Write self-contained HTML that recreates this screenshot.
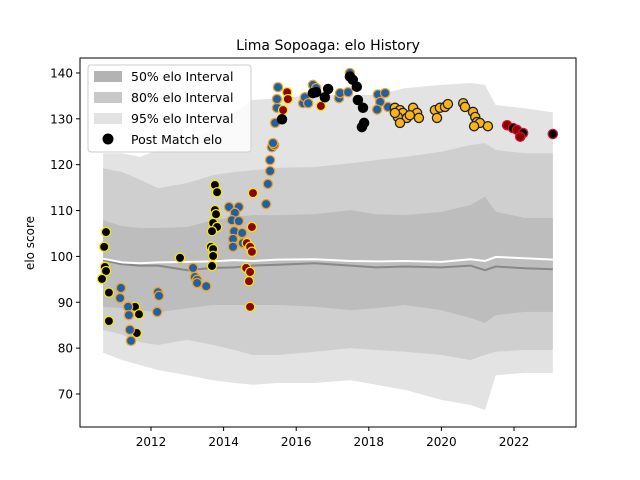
<!DOCTYPE html>
<html><head><meta charset="utf-8"><style>
body{margin:0;background:#fff;}
svg{display:block;font-family:"DejaVu Sans","Liberation Sans",sans-serif;}
</style></head><body>
<svg id="chart" width="640" height="480" viewBox="0 0 640 480">
<rect width="640" height="480" fill="#fff"/>
<text x="328" y="50" text-anchor="middle" font-size="14">Lima Sopoaga: elo History</text>
<text transform="translate(34,243) rotate(-90)" text-anchor="middle" font-size="12">elo score</text>
<g id="plot"></g>
<rect x="80" y="58" width="496" height="369" fill="none" stroke="#000" stroke-width="1"/>
<g id="axes"></g>
<g>
<rect x="88" y="65" width="163" height="87" rx="3" fill="#fff" fill-opacity="0.8" stroke="#ccc"/>
<rect x="94" y="71" width="28" height="11" fill="#b3b3b3"/>
<text x="131" y="81" font-size="12.5">50% elo Interval</text>
<rect x="94" y="92" width="28" height="11" fill="#c8c8c8"/>
<text x="131" y="102" font-size="12.5">80% elo Interval</text>
<rect x="94" y="113" width="28" height="11" fill="#e3e3e3"/>
<text x="131" y="123" font-size="12.5">95% elo Interval</text>
<circle cx="108" cy="139" r="5.5" fill="#000"/>
<text x="131" y="144" font-size="12.5">Post Match elo</text>
</g>
</svg>
<script>
const bandYears=[2010.68,2011.2,2011.7,2012.2,2013,2013.7,2014.3,2014.8,2015.5,2016.5,2017.5,2018.2,2019,2020,2020.8,2021.2,2021.5,2022.3,2023.07];
const hi95=[122.5,122.5,121.7,123.2,125.4,127.5,131.3,134.1,134.5,135.2,135.2,135.2,136.7,137.4,137.8,137.4,133.0,132.3,131.4];
const lo95=[79.0,77.4,76.3,75.2,74.1,73.0,72.4,72.0,72.4,72.4,73.0,72.0,70.9,68.7,67.6,66.5,74.1,74.6,74.6];
const hi80=[119.2,118.4,116.7,114.9,116.0,117.7,118.4,118.8,119.3,119.5,120.3,121.0,121.7,122.8,124.3,124.7,123.2,122.5,122.5];
const lo80=[84.0,82.9,81.3,80.7,81.8,80.7,79.6,78.5,78.5,79.2,80.0,79.6,79.2,78.5,77.4,78.5,79.2,79.6,79.6];
const hi50=[107.9,106.6,106.2,106.2,106.4,107.9,108.6,109.0,109.0,109.2,110.1,109.2,109.0,109.7,111.2,113.0,109.7,108.4,108.4];
const lo50=[89.0,88.7,88.3,87.8,88.7,89.4,89.4,89.4,89.4,89.0,88.3,88.7,89.4,88.3,86.6,85.5,87.2,87.9,87.9];
const meanLine=[99.5,98.7,98.5,98.7,98.8,98.9,99.2,99.0,99.3,99.4,99.0,98.9,99.0,98.8,99.4,99.0,99.9,99.6,99.3];
const medianLine=[99.2,98.3,98.0,98.0,97.0,97.5,97.6,98.0,98.2,98.5,98.0,97.6,97.8,97.6,98.0,97.0,97.8,97.4,97.2];
const blackYellowYears=[2010.76,2010.71,2010.73,2010.76,2010.65,2010.84,2010.84,2011.56,2011.67,2011.61,2012.80,2013.76,2013.82,2013.76,2013.79,2013.71,2013.82,2013.68,2013.65,2013.71,2013.71,2013.68];
const blackYellowElo=[105.3,102.1,97.7,96.8,95.1,92.1,85.9,89.0,87.4,83.3,99.7,115.6,114.0,110.1,109.2,107.3,106.4,105.5,102.1,101.6,100.1,97.9];
const blueYears=[2011.17,2011.15,2011.37,2011.39,2011.42,2011.45,2012.19,2012.22,2012.17,2013.16,2013.21,2013.27,2013.27,2013.52,2014.15,2014.42,2014.31,2014.23,2014.42,2014.29,2014.51,2014.26,2014.53,2014.26,2015.17,2015.22,2015.28,2015.28,2015.33,2015.39,2015.42,2015.47,2015.47,2015.50,2015.36,2016.19,2016.24,2016.33,2016.46,2016.55,2017.18,2017.21,2017.43,2017.48,2018.25,2018.31,2018.23,2018.45,2018.53];
const blueElo=[93.1,90.9,89.0,87.2,84.0,81.6,92.2,91.4,87.9,97.5,95.5,94.9,94.2,93.5,110.8,110.8,109.5,107.9,107.7,105.5,105.1,103.8,102.9,102.1,111.4,115.8,118.6,121.0,123.8,124.3,129.1,132.4,134.3,136.9,124.7,133.4,134.7,133.4,137.4,136.7,134.5,135.6,135.8,140.0,135.3,133.7,132.0,135.6,132.6];
const darkRedYears=[2014.81,2014.78,2014.64,2014.73,2014.78,2014.62,2014.73,2014.70,2014.73,2015.75,2015.77,2015.64,2016.68];
const darkRedElo=[113.8,106.4,102.9,102.1,101.0,97.5,96.6,94.6,89.0,135.8,134.3,131.9,132.8];
const blackYears=[2015.61,2016.46,2016.55,2016.79,2016.88,2017.48,2017.56,2017.67,2017.70,2017.84,2017.87,2017.81];
const blackElo=[129.9,135.6,135.8,134.7,136.5,139.2,138.5,137.0,134.1,132.4,129.1,128.2];
const orangeYears=[2018.72,2018.86,2018.94,2018.80,2019.05,2019.22,2019.33,2019.38,2019.13,2018.72,2018.86,2019.82,2019.88,2019.96,2020.10,2020.18,2020.60,2020.65,2020.87,2020.93,2020.98,2021.06,2021.28,2020.90];
const orangeElo=[132.4,131.9,131.3,130.4,130.2,132.4,131.3,130.2,130.8,131.3,129.1,131.9,130.2,132.4,132.6,133.2,133.4,132.6,131.5,130.4,129.3,129.1,128.4,128.4];
const redYears=[2021.81,2021.97,2022.08,2022.25,2022.17,2023.07];
const redElo=[128.6,128.0,127.6,126.9,126.1,126.7];
const redFill=['#8b0000','#000','#8b0000','#000','#8b0000','#000'];
const xTicks=[2012,2014,2016,2018,2020,2022];
const yTicks=[70,80,90,100,110,120,130,140];

const NS='http://www.w3.org/2000/svg';
function sx(yr){return 151+(yr-2012)*36.3;}
function sy(v){return 256.4-(v-100)*4.586;}
const plot=document.getElementById('plot');
const axes=document.getElementById('axes');
function mk(tag,attrs,parent){const e=document.createElementNS(NS,tag);for(const k in attrs)e.setAttribute(k,attrs[k]);parent.appendChild(e);return e;}
function band(hi,lo,fill,name){
  let d='M';
  for(let i=0;i<bandYears.length;i++)d+=(i?'L':'')+sx(bandYears[i]).toFixed(1)+','+sy(hi[i]).toFixed(1);
  for(let i=bandYears.length-1;i>=0;i--)d+='L'+sx(bandYears[i]).toFixed(1)+','+sy(lo[i]).toFixed(1);
  const p=mk('path',{d:d+'Z',fill:fill},plot);
  
  
}
band(hi95,lo95,'#e3e3e3','band-95');
band(hi80,lo80,'#cfcfcf','band-80');
band(hi50,lo50,'#bdbdbd','band-50');
function line(vals,color,name){
  const pts=bandYears.map((y,i)=>sx(y).toFixed(1)+','+sy(vals[i]).toFixed(1)).join(' ');
  const l=mk('polyline',{points:pts,fill:'none',stroke:color,'stroke-width':2},plot);
  
  
}
line(medianLine,'#888','median-elo-line');
line(meanLine,'#fff','mean-elo-line');
function pts(ys,vs,fill,edge,name){
  for(let i=0;i<ys.length;i++){
    const c=mk('circle',{cx:sx(ys[i]).toFixed(1),cy:sy(vs[i]).toFixed(1),r:4.6,fill:Array.isArray(fill)?fill[i]:fill,stroke:edge,'stroke-width':1.3},plot);
    
    
  }
}
pts(blackYellowYears,blackYellowElo,'#000','#f5e400','match-point-black');
pts(blueYears,blueElo,'#2060a8','#f0a020','match-point-blue');
pts(darkRedYears,darkRedElo,'#8b0000','#f5e400','match-point-darkred');
pts(blackYears,blackElo,'#000','#000','match-point-plain');
pts(orangeYears,orangeElo,'#fbb416','#222','match-point-orange');
pts(redYears,redElo,redFill,'#d0102a','match-point-red');
xTicks.forEach(t=>{
  const x=sx(t);
  mk('line',{x1:x,x2:x,y1:427,y2:431,stroke:'#000'},axes);
  const tx=mk('text',{x:x,y:446,'text-anchor':'middle','font-size':12},axes);
  tx.textContent=t;
  
  
});
yTicks.forEach(t=>{
  const y=sy(t);
  mk('line',{x1:76,x2:80,y1:y,y2:y,stroke:'#000'},axes);
  const tx=mk('text',{x:73,y:y+4.5,'text-anchor':'end','font-size':12},axes);
  tx.textContent=t;
  
  
});
</script>
</body></html>
